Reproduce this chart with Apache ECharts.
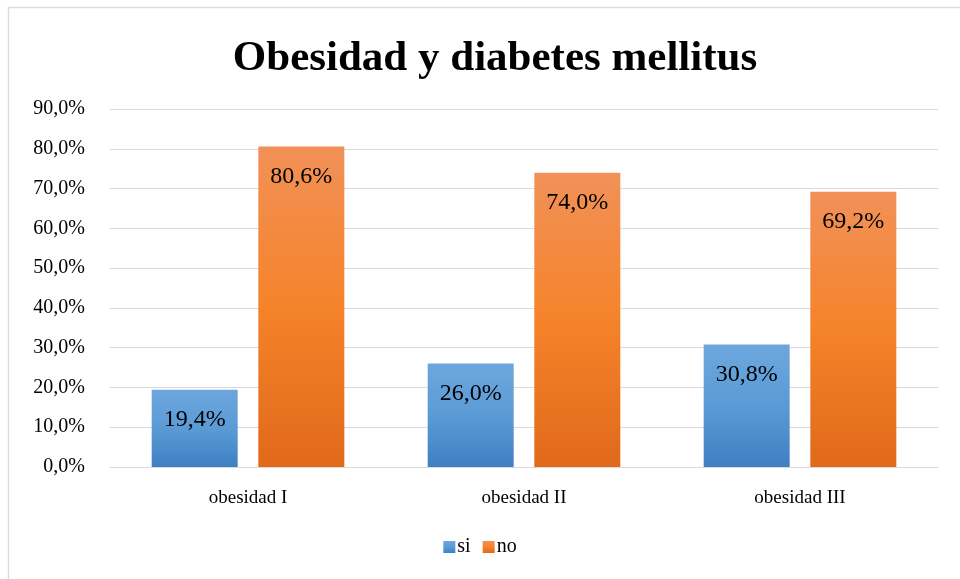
<!DOCTYPE html>
<html><head><meta charset="utf-8">
<script src="https://cdn.jsdelivr.net/npm/echarts@6/dist/echarts.min.js"></script>
<style>html,body{margin:0;padding:0;background:#fff}#c{width:960px;height:579px}</style>
</head><body><div id="c"></div>
<script>
const categories = ['obesidad I', 'obesidad II', 'obesidad III'];
const siValues = [19.4, 26.0, 30.8];
const noValues = [80.6, 74.0, 69.2];
const seriesNames = ['si', 'no'];
const yTicks = [0, 10, 20, 30, 40, 50, 60, 70, 80, 90];

const fmt = v => v.toFixed(1).replace('.', ',') + '%';
const font = '"Liberation Serif", "Times New Roman", serif';
const grad = (a, b, c) => new echarts.graphic.LinearGradient(0, 0, 0, 1, [
  {offset: 0, color: a}, {offset: 0.5, color: b}, {offset: 1, color: c}]);

const chart = echarts.init(document.getElementById('c'));
chart.setOption({
  animation: false,
  backgroundColor: '#fff',
  graphic: [{type: 'rect', shape: {x: 8.5, y: 7.5, width: 1000, height: 700}, style: {fill: 'none', stroke: '#d9dde3', lineWidth: 1.5}, silent: true}],
  title: {text: 'Obesidad y diabetes mellitus', left: 490, top: 32, textAlign: 'center',
    textStyle: {fontFamily: font, fontWeight: 'bold', fontSize: 43, color: '#000'}},
  legend: {data: seriesNames, bottom: 17, left: 'center', itemWidth: 12, itemHeight: 12, itemGap: 12,
    icon: 'rect', textStyle: {fontFamily: font, fontSize: 20, color: '#000', padding: [0, 0, 0, -3]}},
  grid: {left: 110, right: 22, top: 109, bottom: 112},
  xAxis: {type: 'category', data: categories,
    axisLine: {lineStyle: {color: '#d9d9d9', width: 1}}, axisTick: {show: false},
    axisLabel: {fontFamily: font, fontSize: 19, color: '#000', margin: 22}},
  yAxis: {type: 'value', min: 0, max: 90, interval: 10,
    axisLine: {show: false}, axisTick: {show: false},
    splitLine: {lineStyle: {color: '#d9d9d9', width: 1}},
    axisLabel: {fontFamily: font, fontSize: 20, color: '#000', margin: 25,
      formatter: v => yTicks.includes(v) ? fmt(v) : ''}},
  series: [
    {name: 'si', type: 'bar', data: siValues, barWidth: 86, barGap: '24%',
      itemStyle: {color: grad('#6da6de', '#5b9bd5', '#3e7fc3')},
      label: {show: true, position: 'insideTop', distance: 18, formatter: p => fmt(p.value),
        fontFamily: font, fontSize: 24, color: '#000'}},
    {name: 'no', type: 'bar', data: noValues, barWidth: 86,
      itemStyle: {color: grad('#f19158', '#f5832a', '#e0691a')},
      label: {show: true, position: 'insideTop', distance: 18, formatter: p => fmt(p.value),
        fontFamily: font, fontSize: 24, color: '#000'}}
  ]
});
</script></body></html>
